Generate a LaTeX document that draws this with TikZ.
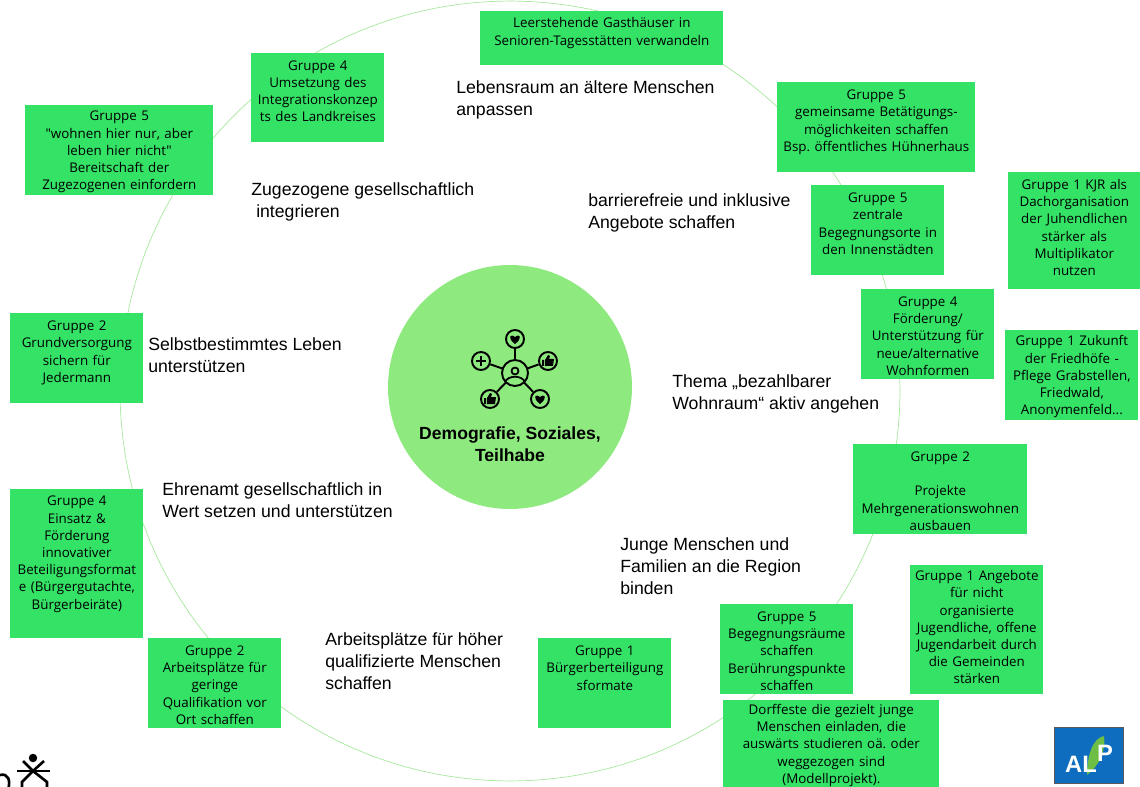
\documentclass[tikz,border=0pt]{standalone}
\usepackage{fontspec}
\setmainfont{Liberation Sans}
\newfontfamily\stickyfont{Open Sans}
\usepackage{tikz}

\definecolor{stickygreen}{HTML}{34E266}
\definecolor{hubgreen}{HTML}{8EE97F}
\definecolor{ringgreen}{HTML}{A6E89C}
\definecolor{logoblue}{HTML}{0F6DBF}
\definecolor{logogreen}{HTML}{6CBE45}

\tikzset{
    sticky/.style 2 args={fill=stickygreen,anchor=north west,align=center,inner sep=0pt,text width=#1,
        minimum width=#1,minimum height=#2,font=\stickyfont\frenchspacing\fontsize{7.6}{9.8}\selectfont,
        execute at begin node={\rule{0pt}{7.6pt}}},
    topic/.style={anchor=west,align=left,inner sep=0pt,font=\fontsize{10.05}{12.5}\selectfont},
    badge/.style={circle,draw=black,line width=1.1pt,fill=hubgreen,inner sep=0pt,minimum size=0.36cm},
    spoke/.style={line width=1.1pt,black},
    heartmark/.pic={\fill[black] (0,5) .. controls (-8,-1) and (-5,-6) .. (0,-2) .. controls (5,-6) and (8,-1) .. (0,5) -- cycle;},
    thumbmark/.pic={\fill[black] (-6,-1) rectangle (-4,5) (-3,-1) -- (0,-6) -- (2,-5) -- (1,-2) -- (6,-2) -- (5,5) -- (-3,5) -- cycle;}
}

\begin{document}
\begin{tikzpicture}[x=0.02cm,y=-0.02cm]
    \useasboundingbox (0,0) rectangle (1140,787);

    % Ring
    \draw[ringgreen,line width=0.4pt] (510,391) circle [radius=7.8cm];

    % Centre circle
    \node[circle,fill=hubgreen,minimum size=4.88cm,inner sep=0pt] (hub) at (510,387) {};
    \node[align=center,inner sep=0pt,font=\bfseries\fontsize{10}{12.5}\selectfont] (hubtext) at (510,444) {Demografie, Soziales,\\Teilhabe};

    % Centre icon
    \coordinate (person) at (515,373);
    \node[badge] (iconTop) at (515,339) {};
    \node[badge] (iconLeft) at (481,361) {};
    \node[badge] (iconRight) at (548,361) {};
    \node[badge] (iconLowLeft) at (490,399) {};
    \node[badge] (iconLowRight) at (540,399) {};
    \draw[spoke] (person) -- (iconTop);
    \draw[spoke] (person) -- (iconLeft);
    \draw[spoke] (person) -- (iconRight);
    \draw[spoke] (person) -- (iconLowLeft);
    \draw[spoke] (person) -- (iconLowRight);
    \node[circle,draw=black,line width=1.1pt,fill=hubgreen,inner sep=0pt,minimum size=0.52cm] (iconHub) at (person) {};
    \node[circle,draw=black,line width=1pt,inner sep=0pt,minimum size=0.14cm] (iconHead) at (515,371) {};
    \draw[line width=1pt] (505,382) .. controls (508,375) and (522,375) .. (525,382);
    \path (iconTop) pic {heartmark};
    \path (iconLowRight) pic {heartmark};
    \path (iconRight) pic {thumbmark};
    \path (iconLowLeft) pic {thumbmark};
    \draw[line width=1.1pt] (476,361) -- (486,361) (481,356) -- (481,366);

    % Topics
    \node[topic] (topicLebensraum) at (456,100) {Lebensraum an ältere Menschen\\anpassen};
    \node[topic] (topicZugezogene) at (251,202) {Zugezogene gesellschaftlich\\\ integrieren};
    \node[topic] (topicBarriere) at (588,213) {barrierefreie und inklusive\\Angebote schaffen};
    \node[topic] (topicLeben) at (148,355) {Selbstbestimmtes Leben\\unterstützen};
    \node[topic] (topicWohnraum) at (672,394) {Thema „bezahlbarer\\Wohnraum“ aktiv angehen};
    \node[topic] (topicEhrenamt) at (162,500) {Ehrenamt gesellschaftlich in\\Wert setzen und unterstützen};
    \node[topic] (topicJunge) at (620,566) {Junge Menschen und\\Familien an die Region\\binden};
    \node[topic] (topicArbeit) at (325,661) {Arbeitsplätze für höher\\qualifizierte Menschen\\schaffen};

    % Sticky notes
    \node[sticky={4.86cm}{1.08cm}] (noteGasthaus) at (480,11) {Leerstehende Gasthäuser in\\Senioren-Tagesstätten verwandeln\\~};
    \node[sticky={3.96cm}{1.8cm}] (noteBetaetigung) at (777,82) {Gruppe 5\\gemeinsame Betätigungs-\\möglichkeiten schaffen\\Bsp. öffentliches Hühnerhaus\\~};
    \node[sticky={2.66cm}{1.78cm}] (noteUmsetzung) at (251,53) {Gruppe 4\\Umsetzung des\\Integrationskonzep\\ts des Landkreises\\~};
    \node[sticky={3.76cm}{1.8cm}] (noteWohnen) at (25,105) {Gruppe 5\\"wohnen hier nur, aber\\leben hier nicht"\\Bereitschaft der\\Zugezogenen einfordern};
    \node[sticky={2.66cm}{1.8cm}] (noteZentrale) at (811,185) {Gruppe 5\\zentrale\\Begegnungsorte in\\den Innenstädten\\~};
    \node[sticky={2.64cm}{2.34cm}] (noteKjr) at (1008,172) {Gruppe 1 KJR als\\Dachorganisation\\der Juhendlichen\\stärker als\\Multiplikator\\nutzen\\[-4pt]~};
    \node[sticky={2.66cm}{1.8cm}] (noteFoerderung) at (861,289) {Gruppe 4\\Förderung/\\Unterstützung für\\neue/alternative\\Wohnformen};
    \node[sticky={2.66cm}{1.8cm}] (noteFriedhof) at (1005,330) {Gruppe 1 Zukunft\\der Friedhöfe -\\Pflege Grabstellen,\\Friedwald,\\Anonymenfeld...};
    \node[sticky={2.66cm}{1.8cm}] (noteGrund) at (10,313) {Gruppe 2\\Grundversorgung\\sichern für\\Jedermann\\~};
    \node[sticky={3.48cm}{1.8cm}] (noteProjekte) at (853,444) {Gruppe 2\\~\\Projekte\\Mehrgenerationswohnen\\ausbauen};
    \node[sticky={2.66cm}{2.98cm}] (noteEinsatz) at (10,489) {Gruppe 4\\Einsatz \&\\Förderung\\innovativer\\Beteiligungsformat\\e (Bürgergutachte,\\Bürgerbeiräte)\\[5pt]~};
    \node[sticky={2.66cm}{1.8cm}] (noteQuali) at (148,638) {Gruppe 2\\Arbeitsplätze für\\geringe\\Qualifikation vor\\Ort schaffen};
    \node[sticky={2.66cm}{1.8cm}] (noteBuerger) at (538,638) {Gruppe 1\\Bürgerberteiligung\\sformate\\~\\~};
    \node[sticky={2.66cm}{1.8cm}] (noteRaeume) at (720,604) {Gruppe 5\\Begegnungsräume\\schaffen\\Berührungspunkte\\schaffen};
    \node[sticky={2.66cm}{2.58cm}] (noteJugend) at (910,565) {Gruppe 1 Angebote\\für nicht\\organisierte\\Jugendliche, offene\\Jugendarbeit durch\\die Gemeinden\\stärken\\[-5pt]~};
    \node[sticky={4.32cm}{1.74cm}] (noteDorf) at (723,700) {Dorffeste die gezielt junge\\Menschen einladen, die\\auswärts studieren oä. oder\\weggezogen sind\\(Modellprojekt).};

    % Logo left
    \fill (33,758) circle [radius=0.085cm];
    \draw[line width=1.5pt] (17,771) -- (50,771);
    \draw[line width=1.5pt] (23,761) -- (33,771) -- (44,761);
    \draw[line width=1.5pt] (33,771) -- (22,782) -- (22,790) (33,771) -- (47,782) -- (47,790);
    \draw[line width=1.5pt] (0,775) .. controls (8,773) and (11,780) .. (8,790);

    % Logo right
    \fill[logoblue,draw=gray!70!black,line width=0.5pt] (1054,727) rectangle (1123,783);
    \fill[logogreen] (1087,775) .. controls (1087,755) and (1093,738) .. (1104,736) .. controls (1106,750) and (1100,765) .. (1087,775) -- cycle;
    \node[inner sep=0pt,text=white,font=\bfseries\fontsize{13.5}{13.5}\selectfont] (logoAl) at (1081,764) {AL};
    \node[inner sep=0pt,text=white,font=\bfseries\fontsize{13.5}{13.5}\selectfont] (logoP) at (1105,753) {P};
\end{tikzpicture}
\end{document}
